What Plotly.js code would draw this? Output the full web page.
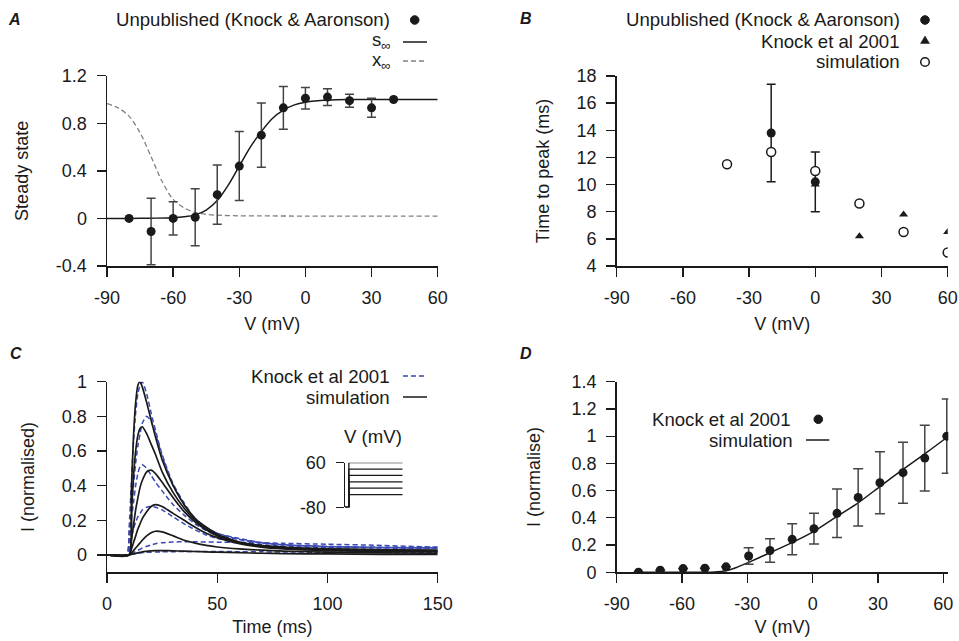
<!DOCTYPE html>
<html>
<head>
<meta charset="utf-8">
<script src="https://cdn.plot.ly/plotly-3.0.1.min.js"></script>
<style>html,body{margin:0;padding:0;background:#fff;}#chart{width:959px;height:641px;}</style>
</head>
<body>
<div id="chart"></div>
<script>
// ---------- Panel A: steady state ----------
const VA = [-80, -70, -60, -50, -40, -30, -20, -10, 0, 10, 20, 30, 40];
const ssData = [0, -0.11, 0, 0.01, 0.2, 0.44, 0.70, 0.93, 1.01, 1.02, 0.99, 0.93, 1.0];
const ssErr = [0, 0.28, 0.14, 0.24, 0.25, 0.29, 0.27, 0.18, 0.09, 0.07, 0.055, 0.08, 0];
const VsInf = [-90, -80, -70, -60, -55, -50, -45, -40, -35, -30, -25, -20, -15, -10, -5, 0, 10, 20, 30, 40, 50, 60];
const sInf = [0, 0, 0.002, 0.006, 0.014, 0.03, 0.07, 0.15, 0.28, 0.44, 0.6, 0.73, 0.84, 0.91, 0.955, 0.977, 0.995, 1, 1, 1, 1, 1];
const VxInf = [-90, -85, -80, -75, -70, -65, -60, -55, -50, -45, -40, -30, -20, 0, 20, 40, 60];
const xInf = [0.965, 0.93, 0.86, 0.72, 0.52, 0.31, 0.16, 0.088, 0.05, 0.034, 0.027, 0.022, 0.021, 0.02, 0.02, 0.02, 0.02];
const ticksA_y = [-0.4, 0, 0.4, 0.8, 1.2];
const ticksA_yText = ['-0.4', '0', '0.4', '0.8', '1.2'];
const ticksV = [-90, -60, -30, 0, 30, 60];
const ticksV_text = ['-90', '-60', '-30', '0', '30', '60'];

// ---------- Panel B: time to peak ----------
const VBunpub = [-20, 0];
const tpUnpub = [13.8, 10.2];
const tpUnpubErr = [3.6, 2.2];
const VBknock = [0, 20, 40, 60];
const tpKnock = [10.0, 6.2, 7.8, 6.5];
const VBsim = [-40, -20, 0, 20, 40, 60];
const tpSim = [11.5, 12.4, 11.0, 8.6, 6.5, 5.0];
const ticksB_y = [4, 6, 8, 10, 12, 14, 16, 18];

// ---------- Panel C: current traces ----------
const tSim = [0, 10, 11, 12, 13, 14, 15, 16, 18, 20, 22, 25, 30, 35, 40, 45, 50, 60, 70, 80, 100, 125, 150];
const sim60 = [0, 0, 0.35, 0.68, 0.88, 0.98, 1.0, 0.97, 0.88, 0.78, 0.68, 0.55, 0.40, 0.29, 0.21, 0.16, 0.12, 0.075, 0.055, 0.045, 0.035, 0.03, 0.027];
const sim40 = [0, 0, 0.22, 0.45, 0.6, 0.69, 0.73, 0.74, 0.70, 0.64, 0.58, 0.48, 0.36, 0.27, 0.2, 0.15, 0.115, 0.072, 0.053, 0.043, 0.034, 0.029, 0.026];
const sim20 = [0, 0, 0.08, 0.17, 0.26, 0.33, 0.39, 0.43, 0.48, 0.49, 0.47, 0.42, 0.33, 0.25, 0.19, 0.145, 0.11, 0.07, 0.05, 0.04, 0.03, 0.025, 0.022];
const sim0 = [0, 0, 0.03, 0.07, 0.11, 0.15, 0.18, 0.21, 0.25, 0.28, 0.29, 0.28, 0.24, 0.2, 0.16, 0.125, 0.1, 0.065, 0.045, 0.035, 0.025, 0.02, 0.018];
const simM20 = [0, 0, 0.01, 0.025, 0.04, 0.055, 0.07, 0.085, 0.11, 0.128, 0.137, 0.133, 0.11, 0.085, 0.068, 0.055, 0.046, 0.035, 0.028, 0.022, 0.016, 0.012, 0.01];
const simM40 = [0, 0, 0.003, 0.006, 0.009, 0.012, 0.015, 0.018, 0.021, 0.024, 0.025, 0.025, 0.024, 0.022, 0.02, 0.018, 0.016, 0.013, 0.01, 0.008, 0.006, 0.004, 0.003];
const tKnock = [0, 9, 10, 11, 12, 13, 14, 15, 16, 18, 20, 22, 25, 30, 35, 40, 45, 50, 60, 70, 80, 100, 125, 150];
const knock60 = [0, 0, 0.15, 0.4, 0.65, 0.82, 0.93, 0.98, 1.0, 0.93, 0.82, 0.72, 0.58, 0.41, 0.3, 0.21, 0.16, 0.125, 0.09, 0.07, 0.058, 0.048, 0.042, 0.04];
const knock40 = [0, 0, 0.1, 0.25, 0.4, 0.53, 0.63, 0.7, 0.76, 0.8, 0.77, 0.7, 0.57, 0.4, 0.29, 0.21, 0.16, 0.125, 0.095, 0.072, 0.06, 0.05, 0.045, 0.045];
const knock20 = [0, 0, 0.08, 0.2, 0.3, 0.4, 0.47, 0.51, 0.52, 0.5, 0.46, 0.42, 0.37, 0.29, 0.23, 0.18, 0.14, 0.115, 0.09, 0.07, 0.058, 0.048, 0.043, 0.04];
const knock0 = [0, 0, 0.04, 0.1, 0.15, 0.19, 0.22, 0.24, 0.26, 0.275, 0.28, 0.275, 0.26, 0.22, 0.18, 0.145, 0.115, 0.095, 0.075, 0.06, 0.05, 0.043, 0.04, 0.038];
const knockM20 = [0, 0, 0.005, 0.01, 0.015, 0.02, 0.027, 0.033, 0.04, 0.05, 0.058, 0.065, 0.071, 0.075, 0.076, 0.076, 0.075, 0.074, 0.072, 0.07, 0.067, 0.062, 0.055, 0.045];
const knockM40 = [0, 0, 0.002, 0.004, 0.006, 0.008, 0.01, 0.012, 0.013, 0.015, 0.016, 0.017, 0.018, 0.019, 0.02, 0.02, 0.02, 0.02, 0.019, 0.018, 0.017, 0.016, 0.015, 0.015];
const ticksC_y = [0, 0.2, 0.4, 0.6, 0.8, 1];
const ticksC_yText = ['0', '0.2', '0.4', '0.6', '0.8', '1'];
const ticksC_x = [0, 50, 100, 150];
// inset protocol
const protoT = [0, 10, 10, 150];
const protoHold = -80;
const protoSteps = [60, 40, 20, 0, -20, -40];
const insetTicks = [-80, 60];
const insetTickText = ['-80', '60'];

// ---------- Panel D: I-V ----------
const VD = [-80, -70, -59.5, -49.5, -39.8, -29.4, -19.6, -9.4, 0.6, 11.2, 20.9, 30.9, 41.5, 51.5, 61.6];
const ID = [0, 0.015, 0.027, 0.03, 0.04, 0.12, 0.16, 0.242, 0.32, 0.433, 0.55, 0.658, 0.732, 0.839, 1.0];
const IDerr = [0, 0, 0, 0, 0, 0.06, 0.087, 0.114, 0.113, 0.178, 0.21, 0.228, 0.224, 0.241, 0.273];
const VDsim = [-80, -60, -50, -45, -39.8, -35, -29.4, -19.6, -9.4, 0.6, 11.2, 20.9, 30.9, 41.5, 51.5, 61.6];
const IDsim = [0, 0, 0, 0.002, 0.012, 0.035, 0.073, 0.144, 0.218, 0.30, 0.41, 0.51, 0.63, 0.756, 0.87, 0.99];
const ticksD_y = [0, 0.2, 0.4, 0.6, 0.8, 1, 1.2, 1.4];
const ticksD_yText = ['0', '0.2', '0.4', '0.6', '0.8', '1', '1.2', '1.4'];

// ---------- style ----------
const W = 959, H = 641;
const FONT = 'Liberation Sans, Arial, Helvetica, sans-serif';
const INK = '#1a1a1a';
const ERR = '#444';
const BLUE = '#3a48b3';
const LEGSIZE = 18.6;
const fx = p => p / W;
const fy = p => 1 - p / H;

function axisBase(extra) {
  return Object.assign({
    showline: true, linecolor: INK, linewidth: 1.5,
    ticks: 'outside', ticklen: 9, tickwidth: 1.3, tickcolor: INK,
    showgrid: false, zeroline: false, fixedrange: true,
    tickfont: {family: FONT, size: 18, color: INK},
    ticklabelstandoff: 6
  }, extra);
}
function ttl(text, standoff) {
  return {text: text, font: {family: FONT, size: 18, color: INK}, standoff: standoff};
}

const traces = [];
// Panel A
traces.push({x: VxInf, y: xInf, xaxis: 'x', yaxis: 'y', mode: 'lines',
  line: {color: '#808080', width: 1.3, dash: '5px,3px', shape: 'spline', smoothing: 0.8}, hoverinfo: 'skip'});
traces.push({x: VsInf, y: sInf, xaxis: 'x', yaxis: 'y', mode: 'lines',
  line: {color: INK, width: 1.5, shape: 'spline', smoothing: 0.8}, hoverinfo: 'skip'});
traces.push({x: VA, y: ssData, xaxis: 'x', yaxis: 'y', mode: 'markers',
  marker: {color: INK, size: 9},
  error_y: {type: 'data', array: ssErr, visible: true, color: ERR, thickness: 1.5, width: 4.5}});
// Panel B
traces.push({x: VBknock, y: tpKnock, xaxis: 'x2', yaxis: 'y2', mode: 'markers',
  marker: {color: INK, size: 8, symbol: 'triangle-up'}});
traces.push({x: VBunpub, y: tpUnpub, xaxis: 'x2', yaxis: 'y2', mode: 'markers',
  marker: {color: INK, size: 9},
  error_y: {type: 'data', array: tpUnpubErr, visible: true, color: INK, thickness: 1.5, width: 4.5}});
traces.push({x: VBsim, y: tpSim, xaxis: 'x2', yaxis: 'y2', mode: 'markers',
  marker: {color: '#fff', size: 9, line: {color: INK, width: 1.5}}});
// Panel C
[knock60, knock40, knock20, knock0, knockM20, knockM40].forEach(arr => {
  traces.push({x: tKnock, y: arr, xaxis: 'x3', yaxis: 'y3', mode: 'lines',
    line: {color: BLUE, width: 1.5, dash: '5px,3px', shape: 'spline', smoothing: 0.6}, hoverinfo: 'skip'});
});
[sim60, sim40, sim20, sim0, simM20, simM40].forEach(arr => {
  traces.push({x: tSim, y: arr, xaxis: 'x3', yaxis: 'y3', mode: 'lines',
    line: {color: INK, width: 1.7, shape: 'spline', smoothing: 0.6}, hoverinfo: 'skip'});
});
// inset protocol
protoSteps.forEach(v => {
  traces.push({x: protoT, y: [protoHold, protoHold, v, v], xaxis: 'x5', yaxis: 'y5', mode: 'lines',
    line: {color: INK, width: 1.3}, hoverinfo: 'skip'});
});
// Panel D
traces.push({x: VDsim, y: IDsim, xaxis: 'x4', yaxis: 'y4', mode: 'lines',
  line: {color: INK, width: 1.5, shape: 'spline', smoothing: 0.6}, hoverinfo: 'skip'});
traces.push({x: VD, y: ID, xaxis: 'x4', yaxis: 'y4', mode: 'markers',
  marker: {color: INK, size: 9},
  error_y: {type: 'data', array: IDerr, visible: true, color: ERR, thickness: 1.5, width: 5}});

// ---------- legends (text right, symbol on the right as in the figure) ----------
const annotations = [];
const shapes = [];
function legText(text, xr, yc) {
  annotations.push({xref: 'paper', yref: 'paper', x: fx(xr), y: fy(yc), xanchor: 'right', yanchor: 'middle',
    text: text, showarrow: false, font: {family: FONT, size: LEGSIZE, color: INK}});
}
function legDot(xc, yc, fill, r) {
  r = r || 4.3;
  shapes.push({type: 'circle', xref: 'paper', yref: 'paper', xsizemode: 'pixel', ysizemode: 'pixel',
    xanchor: fx(xc), yanchor: fy(yc), x0: -r, x1: r, y0: -r, y1: r,
    fillcolor: fill, line: {color: INK, width: fill === '#fff' ? 1.5 : 1}});
}
function legTri(xc, yc) {
  shapes.push({type: 'path', xref: 'paper', yref: 'paper', xsizemode: 'pixel', ysizemode: 'pixel',
    xanchor: fx(xc), yanchor: fy(yc), path: 'M -4.5 -3.5 L 4.5 -3.5 L 0 4 Z',
    fillcolor: INK, line: {color: INK, width: 0.5}});
}
function legLine(x0, x1, yc, color, dash, width) {
  shapes.push({type: 'line', xref: 'paper', yref: 'paper', x0: fx(x0), x1: fx(x1), y0: fy(yc), y1: fy(yc),
    line: {color: color, width: width || 1.5, dash: dash || 'solid'}});
}
function letter(t, xc, yc) {
  annotations.push({xref: 'paper', yref: 'paper', x: fx(xc), y: fy(yc), xanchor: 'center', yanchor: 'middle',
    text: '<b><i>' + t + '</i></b>', showarrow: false, font: {family: FONT, size: 16, color: INK}});
}
// A
letter('A', 14, 19);
legText('Unpublished (Knock &amp; Aaronson)', 392, 20); legDot(414.7, 20, INK);
legText('s<sub>∞</sub>', 393, 41); legLine(403, 427, 42, INK);
legText('x<sub>∞</sub>', 393, 61); legLine(403, 427, 61, '#808080', '5px,3px', 1.3);
// B
letter('B', 526, 18.5);
legText('Unpublished (Knock &amp; Aaronson)', 901.7, 20); legDot(925, 20, INK);
legText('Knock et al 2001', 901.7, 41); legTri(925, 40);
legText('simulation', 901.7, 62); legDot(925, 62, '#fff');
// C
letter('C', 16, 353);
legText('Knock et al 2001', 391.7, 376); legLine(403, 426, 376, BLUE, '5px,3px', 1.4);
legText('simulation', 391.7, 397); legLine(403, 427, 397, INK);
annotations.push({xref: 'paper', yref: 'paper', x: fx(373), y: fy(436), xanchor: 'center', yanchor: 'middle',
  text: 'V (mV)', showarrow: false, font: {family: FONT, size: LEGSIZE, color: INK}});
// D
letter('D', 525.5, 353);
legText('Knock et al 2001', 793.3, 419.3); legDot(818.3, 419.3, INK);
legText('simulation', 795, 440); legLine(806, 829.3, 440, INK);

const layout = {
  width: W, height: H,
  margin: {l: 0, r: 0, t: 0, b: 0},
  paper_bgcolor: '#fff', plot_bgcolor: '#fff',
  showlegend: false,
  font: {family: FONT, size: 18, color: INK},
  // A
  xaxis: axisBase({domain: [fx(107), fx(437.7)], range: [-90, 60], anchor: 'y',
    tickmode: 'array', tickvals: ticksV, ticktext: ticksV_text, title: ttl('V (mV)', 10)}),
  yaxis: axisBase({domain: [fy(266), fy(75.7)], range: [-0.4, 1.2], anchor: 'x',
    tickmode: 'array', tickvals: ticksA_y, ticktext: ticksA_yText, title: ttl('Steady state', 22)}),
  // B
  xaxis2: axisBase({domain: [fx(616.7), fx(947.7)], range: [-90, 60], anchor: 'y2',
    tickmode: 'array', tickvals: ticksV, ticktext: ticksV_text, title: ttl('V (mV)', 10)}),
  yaxis2: axisBase({domain: [fy(266), fy(76)], range: [4, 18], anchor: 'x2',
    tickmode: 'array', tickvals: ticksB_y, ticktext: ticksB_y.map(String), title: ttl('Time to peak (ms)', 22)}),
  // C
  xaxis3: axisBase({domain: [fx(107), fx(437.7)], range: [0, 150], anchor: 'y3',
    tickmode: 'array', tickvals: ticksC_x, ticktext: ticksC_x.map(String), title: ttl('Time (ms)', 7)}),
  yaxis3: axisBase({domain: [fy(572.3), fy(381.7)], range: [-0.1, 1], anchor: 'x3',
    tickmode: 'array', tickvals: ticksC_y, ticktext: ticksC_yText, title: ttl('I (normalised)', 22)}),
  // D
  xaxis4: axisBase({domain: [fx(616.7), fx(948.3)], range: [-90, 62.3], anchor: 'y4',
    tickmode: 'array', tickvals: ticksV, ticktext: ticksV_text, title: ttl('V (mV)', 7)}),
  yaxis4: axisBase({domain: [fy(572.3), fy(381.7)], range: [0, 1.4], anchor: 'x4',
    tickmode: 'array', tickvals: ticksD_y, ticktext: ticksD_yText, title: ttl('I (normalise)', 26)}),
  // inset
  xaxis5: {domain: [fx(345), fx(402.7)], range: [0, 150], anchor: 'y5', visible: false, fixedrange: true},
  yaxis5: axisBase({domain: [fy(507.3), fy(462.7)], range: [-80, 60], anchor: 'x5', ticklen: 8,
    tickmode: 'array', tickvals: insetTicks, ticktext: insetTickText}),
  annotations: annotations,
  shapes: shapes
};

Plotly.newPlot('chart', traces, layout, {staticPlot: true, displayModeBar: false});
</script>
</body>
</html>
